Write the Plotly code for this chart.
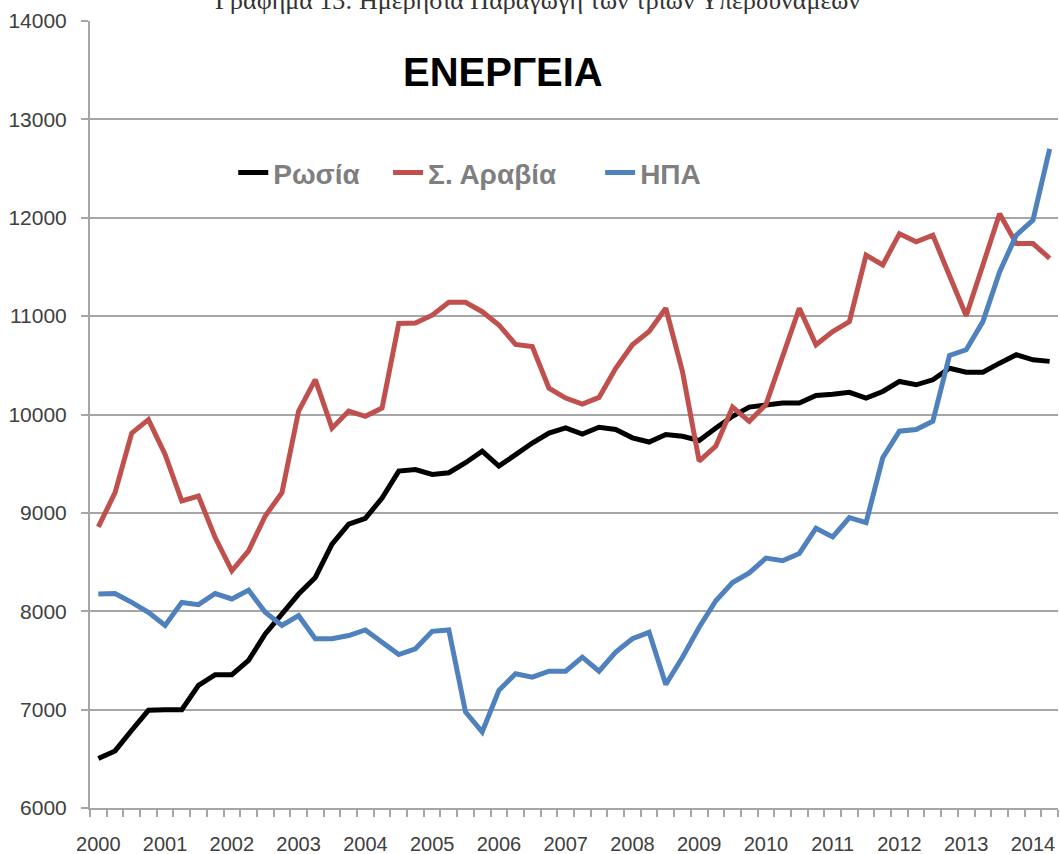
import plotly.graph_objects as go

# Quarterly observations, 2000 Q1 .. 2014 Q2 (58 quarters)
quarters = [f"{y} Q{q}" for y in range(2000, 2015) for q in range(1, 5)][:58]

russia = [6503, 6580, 6790, 6993, 7000, 7000, 7246, 7355, 7355, 7500,
          7770, 7973, 8175, 8344, 8682, 8885, 8945, 9150, 9425, 9440,
          9390, 9408, 9510, 9627, 9475, 9592, 9710, 9811, 9863, 9800,
          9870, 9848, 9763, 9720, 9797, 9779, 9736, 9863, 9982, 10075,
          10100, 10117, 10117, 10193, 10206, 10226, 10167, 10234, 10336, 10302,
          10353, 10470, 10430, 10430, 10522, 10607, 10556, 10540]

saudi = [8857, 9205, 9811, 9948, 9594, 9121, 9171, 8749, 8411, 8614,
         8969, 9205, 10035, 10355, 9861, 10035, 9982, 10066, 10925, 10930,
         11010, 11140, 11140, 11045, 10910, 10713, 10690, 10267, 10167, 10106,
         10174, 10470, 10709, 10843, 11080, 10437, 9526, 9680, 10075, 9931,
         10100, 10607, 11080, 10709, 10843, 10944, 11620, 11520, 11838, 11755,
         11823, 11410, 11003, 11520, 12040, 11738, 11738, 11587]

usa = [8175, 8180, 8090, 7990, 7855, 8090, 8067, 8180, 8125, 8215,
       7990, 7855, 7955, 7720, 7720, 7753, 7810, 7685, 7560, 7618,
       7796, 7810, 6976, 6773, 7196, 7364, 7330, 7391, 7391, 7533,
       7391, 7584, 7720, 7786, 7256, 7533, 7837, 8107, 8292, 8390,
       8540, 8513, 8587, 8844, 8756, 8951, 8900, 9560, 9830, 9848,
       9931, 10600, 10658, 10944, 11450, 11823, 11976, 12700]

series_names = ["Ρωσία", "Σ. Αραβία", "ΗΠΑ"]
series_colors = ["#000000", "#c0504d", "#4f81bd"]

y_ticks = [6000, 7000, 8000, 9000, 10000, 11000, 12000, 13000, 14000]
x_idx = list(range(len(quarters)))
year_tickvals = [i for i, q in enumerate(quarters) if q.endswith("Q1")]
year_ticktext = [q.split()[0] for q in quarters if q.endswith("Q1")]

NBSP = "\u00a0"
legend_labels = [series_names[0] + NBSP * 3, series_names[1] + NBSP * 5, series_names[2]]

fig = go.Figure()
for vals, name, col in zip([russia, saudi, usa], legend_labels, series_colors):
    fig.add_trace(go.Scatter(
        x=x_idx, y=vals, mode="lines", name=name,
        line=dict(color=col, width=5),
        customdata=quarters,
        hovertemplate="%{customdata}: %{y}<extra></extra>",
    ))

grid_col = "#a6a6a6"
fig.update_layout(
    width=1060, height=854,
    margin=dict(l=90, r=2, t=21, b=46),
    paper_bgcolor="white", plot_bgcolor="white",
    showlegend=True,
    legend=dict(
        orientation="h", x=0.148, y=0.807, xanchor="left", yanchor="middle",
        font=dict(family="Liberation Sans", size=28, color="#7f7f7f", weight="bold"),
        bgcolor="rgba(0,0,0,0)", itemwidth=30,
    ),
    annotations=[
        dict(text="ΕΝΕΡΓΕΙΑ", x=0.4267, y=0.935, xref="paper", yref="paper",
             xanchor="center", yanchor="middle", showarrow=False,
             font=dict(family="Liberation Sans", size=40, color="#000000", weight="bold")),
        dict(text="Γράφημα 13: Ημερήσια Παραγωγή των τριών Υπερδυνάμεων",
             x=0.462, y=1.0051, xref="paper", yref="paper",
             xanchor="center", yanchor="bottom", showarrow=False,
             font=dict(family="Liberation Serif", size=26, color="#333333")),
    ],
)
fig.update_xaxes(
    range=[-0.5, len(quarters) - 0.5], automargin=False,
    tickmode="array", tickvals=year_tickvals, ticktext=year_ticktext,
    ticks="", showgrid=False, zeroline=False,
    showline=True, linecolor=grid_col, linewidth=2,
    tickfont=dict(family="Liberation Sans", size=20, color="#404040"),
    ticklabelstandoff=17,
    minor=dict(ticks="outside", tick0=-0.5, dtick=1, ticklen=7, tickcolor=grid_col,
               tickwidth=1.5, showgrid=False),
)
fig.update_yaxes(
    range=[6000, 14000], tickmode="array", tickvals=y_ticks, tickformat="d",
    automargin=False,
    ticks="outside", ticklen=7, tickcolor=grid_col, tickwidth=2,
    showgrid=True, gridcolor=grid_col, gridwidth=2, zeroline=False,
    showline=True, linecolor=grid_col, linewidth=2,
    tickfont=dict(family="Liberation Sans", size=21, color="#404040"),
    ticklabelstandoff=10,
)

fig.write_html(
    "out.html",
    config={"displayModeBar": False},
    post_script="document.body.style.margin='0';document.body.style.overflow='hidden';",
)
